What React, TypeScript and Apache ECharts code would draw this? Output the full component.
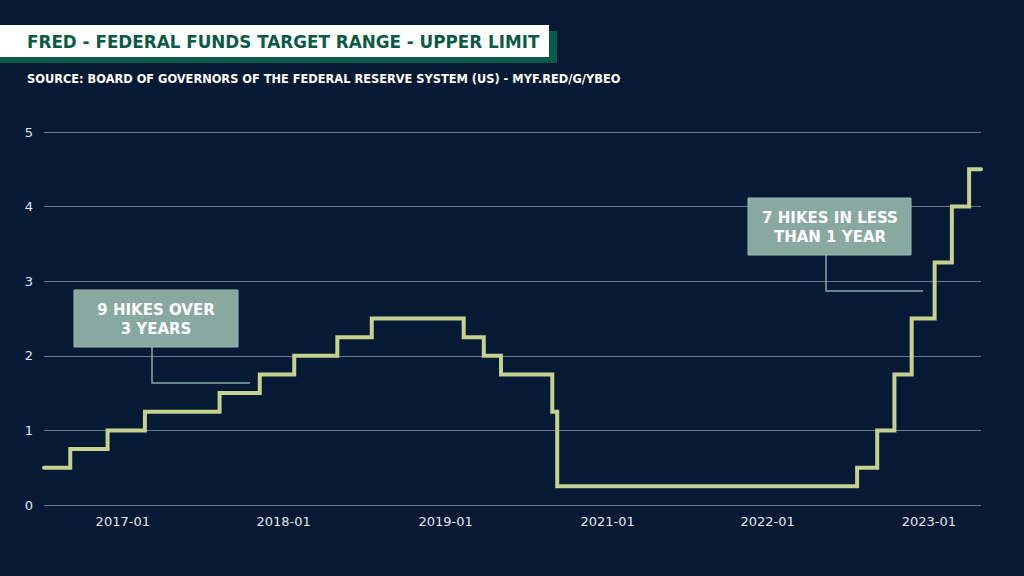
import React, { useEffect, useRef } from "react";
import * as echarts from "echarts";

// Federal funds target range upper limit: date of change -> new value (%)
const changeDates = [
  "2016-10-12", "2016-12-15", "2017-03-16", "2017-06-15", "2017-12-14",
  "2018-03-22", "2018-06-14", "2018-09-27", "2018-12-20", "2019-08-01",
  "2019-09-19", "2019-10-31", "2020-03-04", "2020-03-16", "2022-03-17",
  "2022-05-05", "2022-06-16", "2022-07-28", "2022-09-22", "2022-11-03",
  "2022-12-15", "2023-01-13",
];
const upperLimit = [
  0.5, 0.75, 1.0, 1.25, 1.5,
  1.75, 2.0, 2.25, 2.5, 2.25,
  2.0, 1.75, 1.25, 0.25, 0.5,
  1.0, 1.75, 2.5, 3.25, 4.0,
  4.5, 4.5,
];
// x-axis label positions as they appear in the reference, and their texts
const xLabelDates = ["2017-04-22", "2018-05-19", "2019-06-18", "2020-07-17", "2021-08-11", "2022-09-08"];
const xLabels = ["2017-01", "2018-01", "2019-01", "2021-01", "2022-01", "2023-01"];

const titleText = "FRED - FEDERAL FUNDS TARGET RANGE - UPPER LIMIT";
const subtitleText = "SOURCE: BOARD OF GOVERNORS OF THE FEDERAL RESERVE SYSTEM (US) - MYF.RED/G/YBEO";
const note1 = "9 HIKES OVER\n3 YEARS";
const note2 = "7 HIKES IN LESS\nTHAN 1 YEAR";

const toTs = (s: string) => {
  const [y, m, d] = s.split("-").map(Number);
  return Date.UTC(y, m - 1, d);
};

const FONT = "DejaVu Sans";
const BG = "#061a36";
const NOTE = "#87a9a0";

export default function App() {
  const ref = useRef<HTMLDivElement>(null);
  useEffect(() => {
    if (!ref.current) return;
    const chart = echarts.init(ref.current, null, { renderer: "svg" });
    const data = changeDates.map((d, i) => [toTs(d), upperLimit[i]]);
    const labelTs = xLabelDates.map(toTs);
    const labelMap: Record<string, string> = {};
    labelTs.forEach((t, i) => (labelMap[String(t)] = xLabels[i]));

    chart.setOption({
      animation: false,
      backgroundColor: BG,
      grid: { left: 44, right: 43, top: 132, bottom: 71, containLabel: false },
      xAxis: {
        type: "value",
        min: toTs(changeDates[0]),
        max: toTs(changeDates[changeDates.length - 1]),
        axisLine: { show: false },
        axisTick: { show: false },
        splitLine: { show: false },
        axisLabel: {
          customValues: labelTs,
          formatter: (v: number) => labelMap[String(v)] ?? "",
          color: "#e4e8ee",
          fontSize: 13,
          fontFamily: FONT,
          margin: 10,
          showMinLabel: true,
          showMaxLabel: true,
        },
      },
      yAxis: {
        type: "value",
        min: 0,
        max: 5,
        interval: 1,
        axisLine: { show: false },
        axisTick: { show: false },
        splitLine: { lineStyle: { color: "#6c7b90", width: 1 } },
        axisLabel: { color: "#e4e8ee", fontSize: 13, fontFamily: FONT, margin: 11 },
      },
      series: [
        {
          type: "line",
          step: "end",
          data,
          symbol: "none",
          lineStyle: { color: "#c6d18f", width: 4, cap: "round", join: "miter" },
          z: 3,
        },
      ],
      graphic: [
        { type: "rect", shape: { x: 0, y: 31, width: 557, height: 32 }, style: { fill: "#0b5a46" }, z: 10 },
        { type: "rect", shape: { x: 0, y: 25, width: 549, height: 32 }, style: { fill: "#ffffff" }, z: 11 },
        {
          type: "text", x: 27, y: 41.5, z: 12,
          style: { text: titleText, fill: "#0a5a46", font: `bold 16.8px "${FONT}"`, textVerticalAlign: "middle" },
        },
        {
          type: "text", x: 27, y: 79, z: 12,
          style: { text: subtitleText, fill: "#ffffff", font: `bold 11.4px "${FONT}"`, textVerticalAlign: "middle" },
        },
        // annotation 1
        { type: "polyline", shape: { points: [[152, 347], [152, 383], [250, 383]] }, style: { stroke: NOTE, lineWidth: 1.5, fill: "none" }, z: 10 },
        { type: "rect", shape: { x: 74, y: 290, width: 164, height: 57 }, style: { fill: NOTE, stroke: "#9dbab2", lineWidth: 1 }, z: 11 },
        {
          type: "text", x: 156, y: 319, z: 12,
          style: { text: note1, fill: "#ffffff", font: `bold 15px "${FONT}"`, align: "center", verticalAlign: "middle", lineHeight: 19 },
        },
        // annotation 2
        { type: "polyline", shape: { points: [[826, 255], [826, 291], [923, 291]] }, style: { stroke: NOTE, lineWidth: 1.5, fill: "none" }, z: 10 },
        { type: "rect", shape: { x: 748, y: 198, width: 163, height: 57 }, style: { fill: NOTE, stroke: "#9dbab2", lineWidth: 1 }, z: 11 },
        {
          type: "text", x: 830, y: 227, z: 12,
          style: { text: note2, fill: "#ffffff", font: `bold 15px "${FONT}"`, align: "center", verticalAlign: "middle", lineHeight: 19 },
        },
      ],
    });
    return () => chart.dispose();
  }, []);
  return <div ref={ref} style={{ position: "fixed", left: 0, top: 0, width: 1024, height: 576 }} />;
}
